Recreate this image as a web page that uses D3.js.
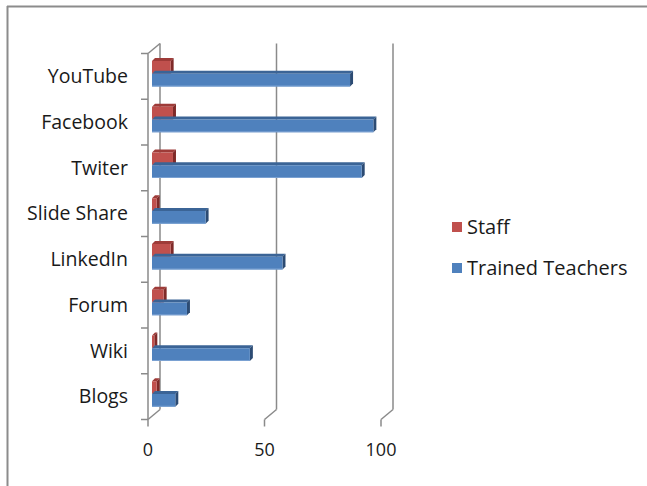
<!DOCTYPE html>
<html>
<head>
<meta charset="utf-8">
<script src="https://cdn.jsdelivr.net/npm/d3@7"></script>
<style>
  body { margin: 0; background: white; }
  text { font-family: "Open Sans", sans-serif; fill: #1a1a1a; }
</style>
</head>
<body>
<div id="main_content"></div>
<script>
var width = 647, height = 486;

var categories = ['YouTube', 'Facebook', 'Twiter', 'Slide Share', 'LinkedIn', 'Forum', 'Wiki', 'Blogs'];
var staff = [8, 9, 9, 2, 8, 5, 1, 2];
var trained = [85, 95, 90, 23, 56, 15, 42, 10];
var seriesNames = ['Staff', 'Trained Teachers'];
var tickValues = [0, 50, 100];

var svg = d3.select('#main_content').append('svg')
  .attr('width', width)
  .attr('height', height)
  .style('background', 'white');

// chart frame (only top and left edges show)
svg.append('line').attr('x1', 7).attr('y1', 6.5).attr('x2', width).attr('y2', 6.5)
  .attr('stroke', '#8c8c8c').attr('stroke-width', 2);
svg.append('line').attr('x1', 7.5).attr('y1', 6).attr('x2', 7.5).attr('y2', height)
  .attr('stroke', '#8c8c8c').attr('stroke-width', 2);

var x = d3.scaleLinear().domain([0, 100]).range([148, 381]);
var y = d3.scaleBand().domain(categories).range([53.5, 419.5]);

var depth = {dx: 12, dy: -10}; // back wall offset
var barShift = {dx: 4, dy: -3.5}; // front face of bars
var barDepth = {dx: 3, dy: -3};

var grid = '#8a8a8a';

// back wall gridlines
svg.selectAll('.grid').data(tickValues).enter().append('line')
  .attr('x1', function(d) { return x(d) + depth.dx; })
  .attr('x2', function(d) { return x(d) + depth.dx; })
  .attr('y1', y.range()[0] + depth.dy)
  .attr('y2', y.range()[1] + depth.dy)
  .attr('stroke', grid).attr('stroke-width', 1.5);

// floor diagonals
svg.selectAll('.floor').data(tickValues).enter().append('line')
  .attr('x1', function(d) { return x(d); })
  .attr('y1', y.range()[1])
  .attr('x2', function(d) { return x(d) + depth.dx; })
  .attr('y2', y.range()[1] + depth.dy)
  .attr('stroke', grid).attr('stroke-width', 1.5);

// bottom tick marks
svg.selectAll('.xtick').data(tickValues).enter().append('line')
  .attr('x1', function(d) { return x(d); })
  .attr('x2', function(d) { return x(d); })
  .attr('y1', y.range()[1])
  .attr('y2', y.range()[1] + 7)
  .attr('stroke', grid).attr('stroke-width', 1.5);

// left wall top diagonal
svg.append('line')
  .attr('x1', x(0)).attr('y1', y.range()[0])
  .attr('x2', x(0) + depth.dx).attr('y2', y.range()[0] + depth.dy)
  .attr('stroke', grid).attr('stroke-width', 1.5);

// category axis
svg.append('line')
  .attr('x1', x(0)).attr('x2', x(0))
  .attr('y1', y.range()[0]).attr('y2', y.range()[1])
  .attr('stroke', grid).attr('stroke-width', 1.5);
var bounds = categories.map(function(c) { return y(c); }).concat([y.range()[1]]);
svg.selectAll('.ytick').data(bounds).enter().append('line')
  .attr('x1', x(0) - 7).attr('x2', x(0))
  .attr('y1', function(d) { return d; })
  .attr('y2', function(d) { return d; })
  .attr('stroke', grid).attr('stroke-width', 1.5);

// labels
svg.selectAll('.ylabel').data(categories).enter().append('text')
  .attr('x', 128)
  .attr('y', function(d) { return y(d) + y.bandwidth() / 2; })
  .attr('dy', '0.35em')
  .attr('text-anchor', 'end')
  .style('font-size', '19.5px')
  .text(function(d) { return d; });

svg.selectAll('.xlabel').data(tickValues).enter().append('text')
  .attr('x', function(d) { return x(d); })
  .attr('y', 456)
  .attr('text-anchor', 'middle')
  .style('font-size', '18px')
  .text(function(d) { return d; });

// bars
var inner = d3.scaleBand().domain(seriesNames).range([11, 36.5]);
var colors = {
  'Staff': {front: '#c0504d', top: '#9e3b38', side: '#7f2a28', light: '#d27673'},
  'Trained Teachers': {front: '#4f81bd', top: '#3b6496', side: '#2c4b73', light: '#7aa1d2'}
};

var bars = [];
categories.forEach(function(c, i) {
  bars.push({cat: c, series: 'Staff', value: staff[i]});
  bars.push({cat: c, series: 'Trained Teachers', value: trained[i]});
});

var g = svg.selectAll('.bar').data(bars).enter().append('g');

function pts(arr) { return arr.map(function(p) { return p.join(','); }).join(' '); }

g.each(function(d) {
  var el = d3.select(this);
  var x0 = x(0) + barShift.dx, x1 = x(d.value) + barShift.dx;
  var y0 = y(d.cat) + inner(d.series) + barShift.dy;
  var h = inner.bandwidth();
  var c = colors[d.series];
  // top face
  el.append('polygon')
    .attr('points', pts([[x0, y0], [x1, y0], [x1 + barDepth.dx, y0 + barDepth.dy], [x0 + barDepth.dx, y0 + barDepth.dy]]))
    .attr('fill', c.top);
  // side face
  el.append('polygon')
    .attr('points', pts([[x1, y0], [x1 + barDepth.dx, y0 + barDepth.dy], [x1 + barDepth.dx, y0 + h + barDepth.dy], [x1, y0 + h]]))
    .attr('fill', c.side);
  // front face
  el.append('rect')
    .attr('x', x0).attr('y', y0)
    .attr('width', x1 - x0).attr('height', h)
    .attr('fill', c.front);
  // light bottom edge
  el.append('line')
    .attr('x1', x0).attr('x2', x1)
    .attr('y1', y0 + h - 0.5).attr('y2', y0 + h - 0.5)
    .attr('stroke', c.light).attr('stroke-width', 1);
});

// legend
var legend = svg.selectAll('.legend').data(seriesNames).enter().append('g')
  .attr('transform', function(d, i) { return 'translate(452,' + (227 + i * 41) + ')'; });
legend.append('rect')
  .attr('x', 0).attr('y', -5).attr('width', 10).attr('height', 10)
  .attr('fill', function(d) { return colors[d].front; });
legend.append('text')
  .attr('x', 15).attr('y', 0).attr('dy', '0.35em')
  .style('font-size', '20px')
  .text(function(d) { return d; });
</script>
</body>
</html>
